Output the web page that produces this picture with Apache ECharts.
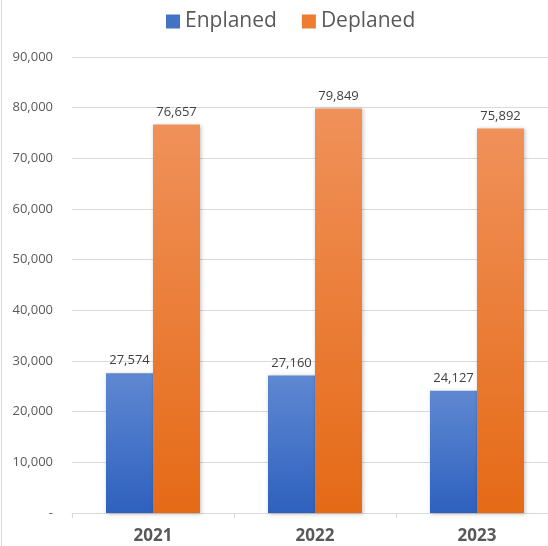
<!DOCTYPE html>
<html><head><meta charset="utf-8">
<script src="https://cdn.jsdelivr.net/npm/echarts@6/dist/echarts.min.js"></script>
<style>html,body{margin:0;padding:0;background:#fff}#c{width:548px;height:546px}</style>
</head><body><div id="c"></div>
<script>
const categories = ['2021', '2022', '2023'];
const enplaned = [27574, 27160, 24127];
const deplaned = [76657, 79849, 75892];
const yTicks = { min: 0, max: 90000, interval: 10000 };

const font = 'Open Sans';
const chart = echarts.init(document.getElementById('c'));
const grad = (top, bottom) => new echarts.graphic.LinearGradient(0, 0, 0, 1, [
  { offset: 0, color: top }, { offset: 1, color: bottom }]);
const labelCfg = { show: true, position: 'top', distance: 6, color: '#404040', fontSize: 13, fontFamily: font,
  formatter: p => p.value.toLocaleString('en-US') };
chart.setOption({
  animation: false,
  textStyle: { fontFamily: font },
  legend: {
    top: 6, left: 161, itemWidth: 14, itemHeight: 14, itemGap: 25,
    icon: 'rect',
    textStyle: { fontSize: 21, color: '#595959', fontFamily: font },
    data: [{ name: 'Enplaned', itemStyle: { color: '#4472C4' } }, { name: 'Deplaned', itemStyle: { color: '#ED7D31' } }]
  },
  graphic: [{ type: 'line', shape: { x1: 1.5, y1: 0, x2: 1.5, y2: 546 }, style: { stroke: '#d9d9d9', lineWidth: 1 } }],
  grid: { left: 72, top: 57, bottom: 33, right: -10, containLabel: false, outerBoundsMode: 'none' },
  xAxis: {
    type: 'category', data: categories,
    axisLine: { lineStyle: { color: '#d9d9d9' } },
    axisTick: { show: true, length: 5, lineStyle: { color: '#d9d9d9' } },
    axisLabel: { fontSize: 17, fontWeight: 'bold', color: '#595959', margin: 15, fontFamily: font }
  },
  yAxis: {
    type: 'value', min: yTicks.min, max: yTicks.max, interval: yTicks.interval,
    axisLine: { show: false }, axisTick: { show: false },
    splitLine: { lineStyle: { color: '#d9d9d9' } },
    axisLabel: { fontSize: 13, color: '#595959', margin: 19, fontFamily: font,
      formatter: v => v === 0 ? '-' : v.toLocaleString('en-US') }
  },
  series: [
    { name: 'Enplaned', type: 'bar', data: enplaned, barWidth: 47, barGap: '0%',
      itemStyle: { color: grad('#5F88D2', '#2E61BE'), shadowColor: 'rgba(0,0,0,0.25)', shadowBlur: 4, shadowOffsetX: 1, shadowOffsetY: 1 },
      label: labelCfg },
    { name: 'Deplaned', type: 'bar', data: deplaned, barWidth: 47, barGap: '0%',
      itemStyle: { color: grad('#F0915A', '#E56A16'), shadowColor: 'rgba(0,0,0,0.25)', shadowBlur: 4, shadowOffsetX: 1, shadowOffsetY: 1 },
      label: labelCfg }
  ]
});
</script></body></html>
